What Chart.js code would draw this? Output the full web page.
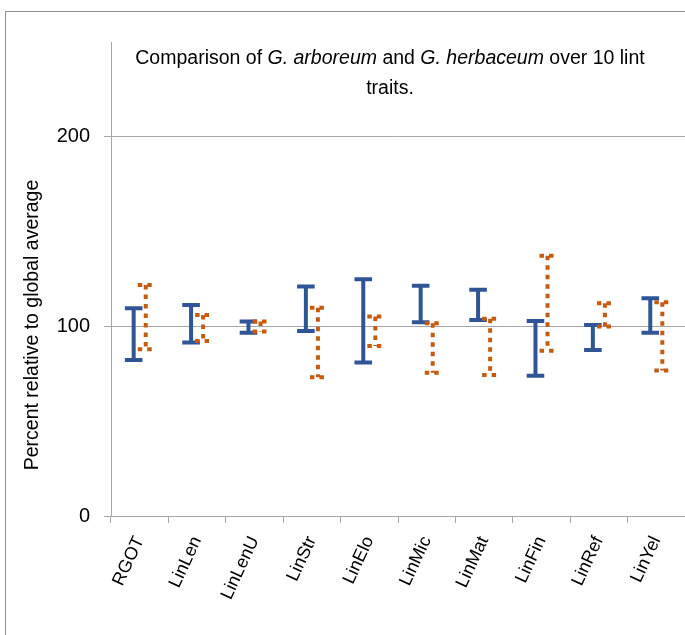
<!DOCTYPE html>
<html>
<head>
<meta charset="utf-8">
<script src="https://cdn.jsdelivr.net/npm/chart.js@4.4.0/dist/chart.umd.min.js"></script>
<style>
  html, body { margin: 0; padding: 0; background: #fff; }
  #wrap { position: relative; width: 685px; height: 635px; }
</style>
</head>
<body>
<div id="wrap"><canvas id="c" width="685" height="635"></canvas></div>
<script>
// ---- data ----
const categories = ['RGOT', 'LinLen', 'LinLenU', 'LinStr', 'LinElo', 'LinMic', 'LinMat', 'LinFin', 'LinRef', 'LinYel'];
const arboreumLow  = [82.3, 91.5, 96.7, 97.6, 80.9, 102.2, 103.4, 74.0, 87.6, 96.7];
const arboreumHigh = [109.6, 111.3, 102.6, 121.0, 124.9, 121.5, 119.3, 102.9, 100.8, 114.9];
const herbaceumLow  = [88.0, 92.3, 97.3, 73.2, 89.7, 75.6, 74.4, 87.1, 100.0, 76.7];
const herbaceumHigh = [121.9, 106.0, 102.6, 109.9, 105.2, 101.7, 104.0, 137.2, 112.2, 112.8];
const yTicks = [0, 100, 200];
const yMax = 250;
const titleLines = [
  [['Comparison of ', false], ['G. arboreum', true], [' and ', false], ['G. herbaceum', true], [' over 10 lint', false]],
  [['traits.', false]]
];
const yAxisTitle = 'Percent relative to global average';

const FONT = "'Liberation Sans', Arial, sans-serif";
const BLUE = '#2F5597';
const ORANGE = '#C55A11';
const GRID = '#A6A6A6';

const pair = (lo, hi) => lo.map((v, i) => [v, hi[i]]);

const errorBarPlugin = {
  id: 'errorBars',
  afterDatasetsDraw(chart) {
    const ctx = chart.ctx;
    chart.data.datasets.forEach((ds, di) => {
      const meta = chart.getDatasetMeta(di);
      const st = ds.errStyle;
      meta.data.forEach(el => {
        const x = el.x;
        const top = Math.min(el.y, el.base);
        const bot = Math.max(el.y, el.base);
        ctx.save();
        ctx.strokeStyle = st.color;
        ctx.lineWidth = st.width;
        ctx.lineCap = 'butt';
        ctx.setLineDash(st.dash);
        ctx.beginPath();
        ctx.moveTo(x, top);
        ctx.lineTo(x, bot);
        ctx.stroke();
        ctx.beginPath();
        ctx.moveTo(x - st.cap, top);
        ctx.lineTo(x + st.cap, top);
        ctx.moveTo(x - st.cap, bot);
        ctx.lineTo(x + st.cap, bot);
        ctx.stroke();
        ctx.restore();
      });
    });
  }
};

const decorPlugin = {
  id: 'decor',
  beforeDraw(chart) {
    const ctx = chart.ctx;
    ctx.save();
    ctx.fillStyle = '#fff';
    ctx.fillRect(0, 0, chart.width, chart.height);
    ctx.strokeStyle = '#8E8E8E';
    ctx.lineWidth = 1;
    ctx.strokeRect(5.5, 11.5, chart.width + 20, chart.height + 20);
    ctx.restore();
  },
  afterDraw(chart) {
    const ctx = chart.ctx;
    ctx.save();
    ctx.fillStyle = '#000';
    ctx.textBaseline = 'middle';
    const size = 19.5;
    const cx = 390;
    const ys = [59, 89];
    titleLines.forEach((line, li) => {
      let total = 0;
      const widths = line.map(([t, it]) => {
        ctx.font = (it ? 'italic ' : '') + size + 'px ' + FONT;
        const w = ctx.measureText(t).width;
        total += w;
        return w;
      });
      let x = cx - total / 2;
      line.forEach(([t, it], k) => {
        ctx.font = (it ? 'italic ' : '') + size + 'px ' + FONT;
        ctx.textAlign = 'left';
        ctx.fillText(t, x, ys[li]);
        x += widths[k];
      });
    });
    // y axis title
    ctx.translate(33, 325);
    ctx.rotate(-Math.PI / 2);
    ctx.font = size + 'px ' + FONT;
    ctx.textAlign = 'center';
    ctx.fillText(yAxisTitle, 0, 0);
    ctx.restore();
  }
};

new Chart(document.getElementById('c'), {
  type: 'bar',
  data: {
    labels: categories,
    datasets: [
      {
        label: 'G. arboreum',
        data: pair(arboreumLow, arboreumHigh),
        backgroundColor: 'rgba(0,0,0,0)',
        borderWidth: 0,
        errStyle: { color: BLUE, width: 4, dash: [], cap: 8.8 }
      },
      {
        label: 'G. herbaceum',
        data: pair(herbaceumLow, herbaceumHigh),
        backgroundColor: 'rgba(0,0,0,0)',
        borderWidth: 0,
        errStyle: { color: ORANGE, width: 4, dash: [4.5, 5], cap: 8 }
      }
    ]
  },
  options: {
    responsive: false,
    animation: false,
    devicePixelRatio: 1,
    categoryPercentage: 0.42,
    barPercentage: 1,
    layout: { padding: { top: 42, right: 0, bottom: 0, left: 0 } },
    plugins: {
      legend: { display: false },
      tooltip: { enabled: false },
      title: { display: false }
    },
    scales: {
      x: {
        type: 'category',
        offset: true,
        grid: { offset: true, drawOnChartArea: false, drawTicks: true, tickLength: 7, color: GRID },
        border: { display: true, color: GRID },
        ticks: {
          color: '#000',
          font: { family: FONT, size: 18 },
          minRotation: 65,
          maxRotation: 65,
          padding: 10,
          autoSkip: false
        },
        afterFit(scale) { scale.height = 119; scale.paddingLeft = 0; scale.paddingRight = 0; }
      },
      y: {
        min: 0,
        max: yMax,
        grid: { color: GRID, tickLength: 7, drawTicks: true },
        border: { display: true, color: GRID },
        ticks: {
          stepSize: 100,
          color: '#000',
          font: { family: FONT, size: 20 },
          padding: 14
        },
        afterBuildTicks(scale) { scale.ticks = yTicks.map(v => ({ value: v })); },
        afterFit(scale) { scale.width = 111; scale.paddingTop = 0; scale.paddingBottom = 0; }
      }
    }
  },
  plugins: [decorPlugin, errorBarPlugin]
});
</script>
</body>
</html>
